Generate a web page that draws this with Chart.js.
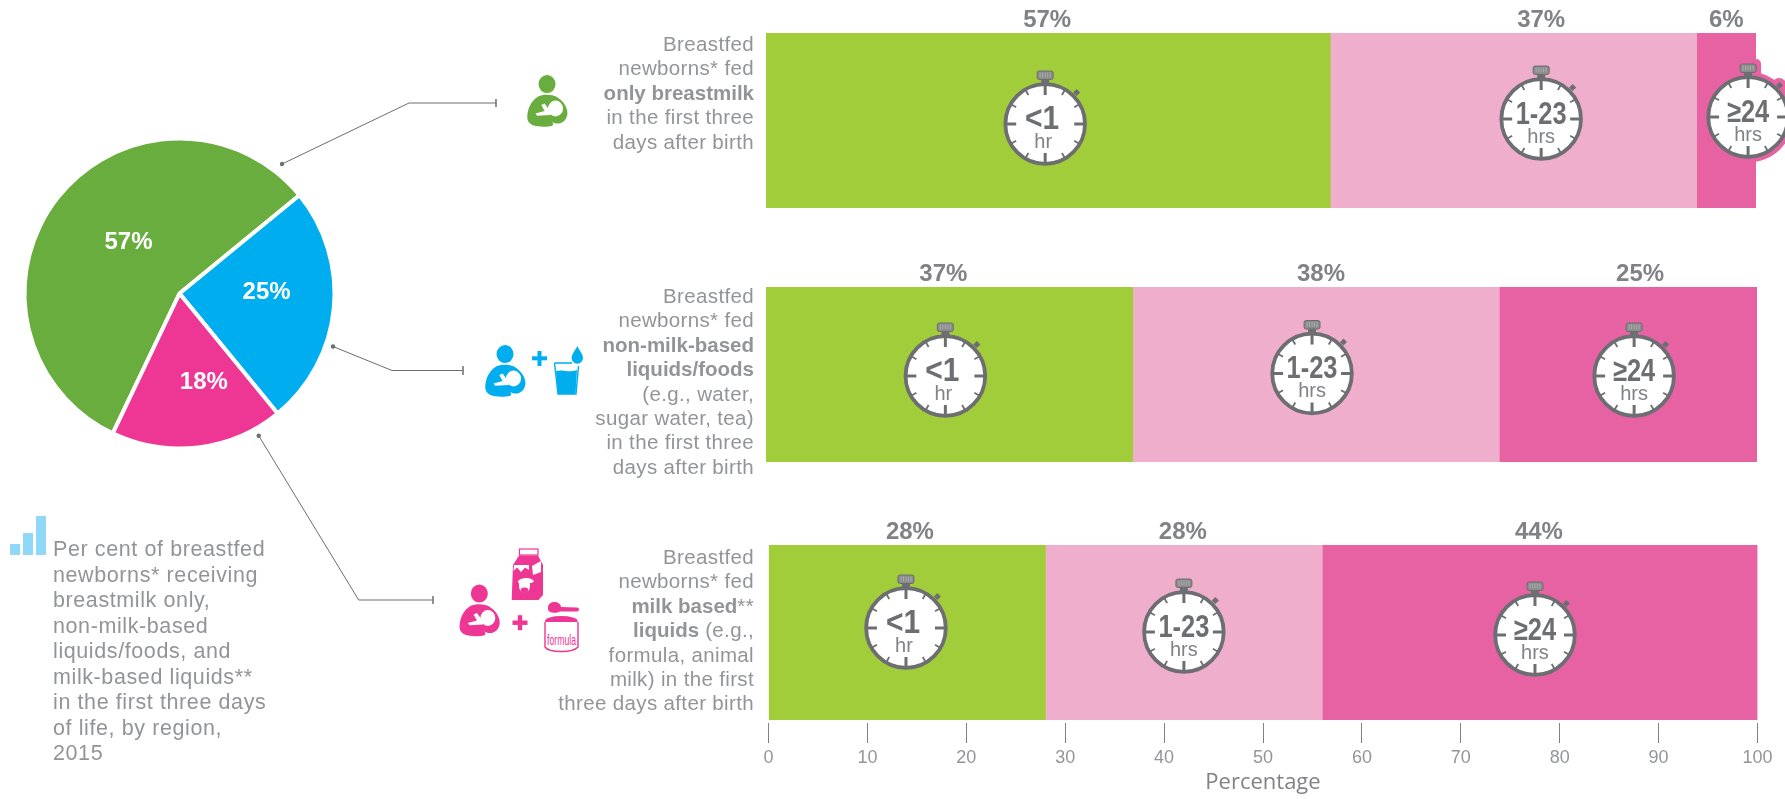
<!DOCTYPE html>
<html><head><meta charset="utf-8">
<style>
html,body{margin:0;padding:0;background:#fff;width:1785px;height:799px;overflow:hidden}
canvas{position:absolute;left:0;top:0}
svg{position:absolute;left:0;top:0}
.note{position:absolute;color:#929497;font-family:"Liberation Sans",sans-serif;white-space:nowrap}
.note b{font-weight:700;letter-spacing:0}
.row{font-size:20.5px;line-height:24.4px;text-align:right;right:1031px;letter-spacing:.35px}
#lead{font-size:21.5px;line-height:25.5px;left:53px;top:537px;letter-spacing:.6px}
</style>
<script src="https://cdn.jsdelivr.net/npm/chart.js@4"></script>
</head><body>
<svg width="1785" height="799" viewBox="0 0 1785 799" id="art">
<defs>
<symbol id="mother" overflow="visible">
 <circle cx="73" cy="42" r="25"/>
 <path d="M48 76C60 70 88 70 102 78C122 90 134 108 133 124C132 142 118 152 104 152C97 152 91 150 87 146C91 150 93 156 88 158C75 162 45 162 30 156C18 150 14 142 15 130C17 105 30 86 48 76Z"/>
 <circle cx="98" cy="110" r="22" fill="#fff"/>
 <path d="M56 100L66 96L84 120L84 128L44 130L39 124L66 117Z" fill="#fff"/>
</symbol>
</defs>
<g fill="none" stroke="#6d6e71" stroke-width="1">
 <polyline points="282,164 409,103 496,103"/><line x1="496" y1="99" x2="496" y2="107" stroke-width="1.5"/>
 <polyline points="333,346.5 392,370.5 463,370.5"/><line x1="463" y1="366" x2="463" y2="375" stroke-width="1.5"/>
 <polyline points="258.7,435.7 358.7,600 433,600"/><line x1="433" y1="596" x2="433" y2="604" stroke-width="1.5"/>
</g>
<g fill="#6d6e71"><circle cx="282" cy="164" r="2.2"/><circle cx="333" cy="346.5" r="2.2"/><circle cx="258.7" cy="435.7" r="2.2"/></g>
<g fill="#8fd8f8"><rect x="10" y="544" width="10" height="11"/><rect x="23" y="533" width="10" height="22"/><rect x="36" y="516" width="10" height="39"/></g>
<g fill="#69ad3e" transform="translate(522.2,68.900) scale(.34,.36)"><use href="#mother"/></g>
<g fill="#00aeef" transform="translate(480.2,338.900) scale(.34,.36)"><use href="#mother"/></g>
<g fill="#00aeef">
 <rect x="532" y="356.3" width="15" height="4"/><rect x="537.5" y="351" width="4" height="15"/>
 <path d="M577.3 346C579 350 583 354 583 358A5.7 5.7 0 0 1 571.6 358C571.6 354 575.6 350 577.3 346Z"/>
 <path d="M556 371C562 369 570 373 577 370L575.5 394L558 394Z"/>
</g>
<path d="M554.5 363L572 363M578.5 366L576 394L558 394L554.5 363" fill="none" stroke="#00aeef" stroke-width="1.4"/>
<g fill="#ee3694" transform="translate(454.500,578.400) scale(.34,.36)"><use href="#mother"/></g>
<g fill="#ee3694">
 <rect x="512.5" y="620.5" width="15" height="4.4"/><rect x="517.8" y="615.2" width="4.4" height="15"/>
 <path d="M519 555.5L538 555.5L543 565L543 595L538.5 600L511.7 600L513 565Z"/>
 <rect x="519.5" y="549" width="18.5" height="6" fill="none" stroke="#ee3694" stroke-width="1.2"/>
 <path d="M548 607A6.5 5 0 0 1 561 607L577 607.500A2 2 0 0 1 577 611.500L560 611.500C556 614 548 613 548 609Z"/>
 <ellipse cx="561.300" cy="621" rx="16.300" ry="5"/>
</g>
<path d="M514 565L529 565L529 570L525 567.500L521 572L517 567.500L513.500 571Z M532 566L541 561L541 572L533 575Z" fill="#fff"/>
<path d="M518 581C521 578 525 578 526 578C528 578 531 578 534 581C533 583 531 583 530 583C530 586 530 588 529 590C527 593 522 593 520 590C519 588 519 586 519 583C518 583 518 582 518 581Z" fill="#fff"/>
<ellipse cx="524.500" cy="590" rx="3.800" ry="2.500" fill="#ee3694"/>
<path d="M545 622L545 647C549 653 573 653 578 647L578 622" fill="#fff" stroke="#ee3694" stroke-width="1.4"/>
<text x="561.500" y="645" text-anchor="middle" fill="#ee3694" font-family="Liberation Sans Narrow, Liberation Sans" font-size="14" textLength="29" lengthAdjust="spacingAndGlyphs">formula</text>
</svg>
<canvas id="pie" width="359" height="587"></canvas>
<canvas id="bar0" width="1785" height="799"></canvas>
<canvas id="bar1" width="1785" height="799"></canvas>
<canvas id="bar2" width="1785" height="799"></canvas>
<div class="note row" id="r0" style="top:32px"></div>
<div class="note row" id="r1" style="top:284px"></div>
<div class="note row" id="r2" style="top:545px"></div>
<div class="note" id="lead"></div>
<script>
// ---- data ----
const categories = ['Breastmilk only', 'Non-milk-based liquids/foods', 'Milk-based liquids'];
// segment lengths as drawn in the picture
const under1hr = [57, 37, 28];
const hrs1to23 = [37, 37, 28];
const hrs24plus = [6, 26, 44];
// percentages as printed above the segments (row 2 is printed 38 / 25)
const printedUnder1 = [57, 37, 28];
const printed1to23 = [37, 38, 28];
const printed24plus = [6, 25, 44];
const durationNames = ['<1 hr', '1-23 hrs', '≥24 hrs'];
const clockMain = ['<1', '1-23', '≥24'];
const clockSub = ['hr', 'hrs', 'hrs'];
const pieLabels = ['Breastmilk only', 'Non-milk-based', 'Milk-based'];
const pieValues = [57, 25, 18];
const axisTitle = 'Percentage';

const rowText0 = ['Breastfed','newborns* fed','<b>only breastmilk</b>','in the first three','days after birth'];
const rowText1 = ['Breastfed','newborns* fed','<b>non-milk-based</b>','<b>liquids/foods</b>','(e.g., water,','sugar water, tea)','in the first three','days after birth'];
const rowText2 = ['Breastfed','newborns* fed','<b>milk based</b>**','<b>liquids</b> (e.g.,','formula, animal','milk) in the first','three days after birth'];
const leadText = ['Per cent of breastfed','newborns* receiving','breastmilk only,','non-milk-based','liquids/foods, and','milk-based liquids**','in the first three days','of life, by region,','2015'];

// ---- layout ----
const rowBoxes = [{l:766,r:1756,t:33,b:208},{l:766,r:1757,t:287,b:462},{l:768.5,r:1757.5,t:545,b:720}];
const labelAt = [[28.4,78.3,97],[17.9,56,88.2],[14.3,41.9,77.9]];
const clockAt = [[28.2,78.3,99.2],[18.1,55.1,87.6],[13.9,42,77.5]];
const clockDy = [[3.5,-1.5,-3.5],[1.5,-1,1.5],[-4.5,-.5,2.5]];
const colors = ['#a2cd3a','#f0aecd','#e662a3'];
const pieColors = ['#69ad3e','#00aeef','#ee3694'];
const pieLabelShift = [[10,-3],[10,-9],[15,12]];
const ink = '#6d6e71', soft = '#808285';

document.getElementById('r0').innerHTML = rowText0.join('<br>');
document.getElementById('r1').innerHTML = rowText1.join('<br>');
document.getElementById('r2').innerHTML = rowText2.join('<br>');
document.getElementById('lead').innerHTML = leadText.join('<br>');

function drawClock(ctx, cx, cy, d, halo) {
  ctx.save();
  ctx.translate(cx, cy);
  if (halo) {
    ctx.fillStyle = colors[2];
    ctx.beginPath(); ctx.arc(0, 0, 45.5, 0, Math.PI * 2); ctx.fill();
    ctx.beginPath(); ctx.roundRect(-13, -58, 26, 20, 5); ctx.fill();
    ctx.beginPath(); ctx.arc(31, -31.5, 7.5, 0, Math.PI * 2); ctx.fill();
  }
  ctx.save(); ctx.rotate(Math.PI / 4); ctx.fillStyle = ink; ctx.fillRect(-2.5, -47, 5, 5); ctx.restore();
  ctx.fillStyle = ink; ctx.fillRect(-4, -46, 8, 7);
  ctx.fillStyle = '#8a8b8d'; ctx.strokeStyle = ink; ctx.lineWidth = 1;
  ctx.beginPath(); ctx.roundRect(-8, -53, 16, 8.5, 2); ctx.fill(); ctx.stroke();
  ctx.strokeStyle = '#b5b6b8'; ctx.lineWidth = .8;
  for (let i = -5; i <= 5; i += 2.5) { ctx.beginPath(); ctx.moveTo(i, -51.5); ctx.lineTo(i, -46.5); ctx.stroke(); }
  ctx.fillStyle = '#fff'; ctx.strokeStyle = ink; ctx.lineWidth = 3.8;
  ctx.beginPath(); ctx.arc(0, 0, 39.8, 0, Math.PI * 2); ctx.fill(); ctx.stroke();
  for (let i = 0; i < 12; i++) {
    const major = i % 3 === 0;
    ctx.save(); ctx.rotate(i * Math.PI / 6);
    ctx.lineWidth = major ? 3 : 1.8;
    ctx.beginPath(); ctx.moveTo(0, -39); ctx.lineTo(0, major ? -29 : -33.5); ctx.stroke();
    ctx.restore();
  }
  ctx.textAlign = 'center'; ctx.textBaseline = 'middle'; ctx.fillStyle = ink;
  ctx.save();
  ctx.translate(d === 0 ? -3 : 0, -4);
  ctx.scale(d === 0 ? 0.88 : 0.82, 1);
  ctx.font = '700 ' + (d === 0 ? 34 : 31) + 'px "Liberation Sans",sans-serif';
  ctx.fillText(clockMain[d], 0, 0);
  ctx.restore();
  ctx.fillStyle = soft;
  ctx.font = '400 20px "Liberation Sans",sans-serif';
  ctx.fillText(clockSub[d], d === 0 ? -2 : 0, 18);
  ctx.restore();
}

function rowPlugin(r) {
  return {
    id: 'rowMarks' + r,
    afterDatasetsDraw(chart) {
      const ctx = chart.ctx, xs = chart.scales.x, box = rowBoxes[r];
      const mid = (box.t + box.b) / 2;
      ctx.save();
      ctx.font = '700 24px "Liberation Sans",sans-serif';
      ctx.fillStyle = soft; ctx.textAlign = 'center'; ctx.textBaseline = 'middle';
      [printedUnder1[r], printed1to23[r], printed24plus[r]].forEach((v, d) =>
        ctx.fillText(v + '%', xs.getPixelForValue(labelAt[r][d]), box.t - 13));
      [0, 1, 2].forEach(d => drawClock(ctx, xs.getPixelForValue(clockAt[r][d]), mid + clockDy[r][d], d, r === 0 && d === 2));
      ctx.restore();
    }
  };
}

rowBoxes.forEach((box, r) => {
  const last = r === rowBoxes.length - 1;
  new Chart(document.getElementById('bar' + r), {
    type: 'bar',
    data: {
      labels: [categories[r]],
      datasets: [
        { label: durationNames[0], data: [under1hr[r]], backgroundColor: colors[0] },
        { label: durationNames[1], data: [hrs1to23[r]], backgroundColor: colors[1] },
        { label: durationNames[2], data: [hrs24plus[r]], backgroundColor: colors[2] }
      ]
    },
    options: {
      indexAxis: 'y', responsive: false, animation: false,
      layout: { padding: { left: box.l, right: 1785 - box.r, top: box.t, bottom: last ? 0 : 799 - box.b } },
      datasets: { bar: { barPercentage: 1, categoryPercentage: 1, borderWidth: 0 } },
      plugins: { legend: { display: false }, tooltip: { enabled: false } },
      scales: {
        y: { display: false, stacked: true },
        x: {
          display: last, stacked: true, min: 0, max: 100,
          afterFit(s) { if (last) s.height = 79; },
          border: { display: false },
          grid: { drawOnChartArea: false, drawTicks: true, tickLength: 23, color: '#808285', lineWidth: 1, tickBorderDash: [20, 1000], tickBorderDashOffset: -3 },
          ticks: { stepSize: 10, autoSkip: false, maxRotation: 0, padding: 4, color: '#939598', font: { family: '"Liberation Sans"', size: 18 } },
          title: { display: true, text: axisTitle, color: '#808285', padding: { top: 0, bottom: 3 }, font: { family: '"Open Sans"', size: 22 } }
        }
      }
    },
    plugins: [rowPlugin(r)]
  });
});

new Chart(document.getElementById('pie'), {
  type: 'pie',
  data: { labels: pieLabels, datasets: [{ data: pieValues, backgroundColor: pieColors, borderColor: '#fff', borderWidth: 4 }] },
  options: {
    responsive: false, animation: false, rotation: 205.5, radius: 155,
    plugins: { legend: { display: false }, tooltip: { enabled: false } }
  },
  plugins: [{
    id: 'pieText',
    afterDatasetsDraw(chart) {
      const ctx = chart.ctx;
      ctx.save();
      ctx.font = '700 24px "Liberation Sans",sans-serif';
      ctx.fillStyle = '#fff'; ctx.textAlign = 'center'; ctx.textBaseline = 'middle';
      chart.getDatasetMeta(0).data.forEach((arc, i) => {
        const p = arc.getCenterPoint();
        ctx.fillText(pieValues[i] + '%', p.x + pieLabelShift[i][0], p.y + pieLabelShift[i][1]);
      });
      ctx.restore();
    }
  }]
});
</script>
</body></html>
